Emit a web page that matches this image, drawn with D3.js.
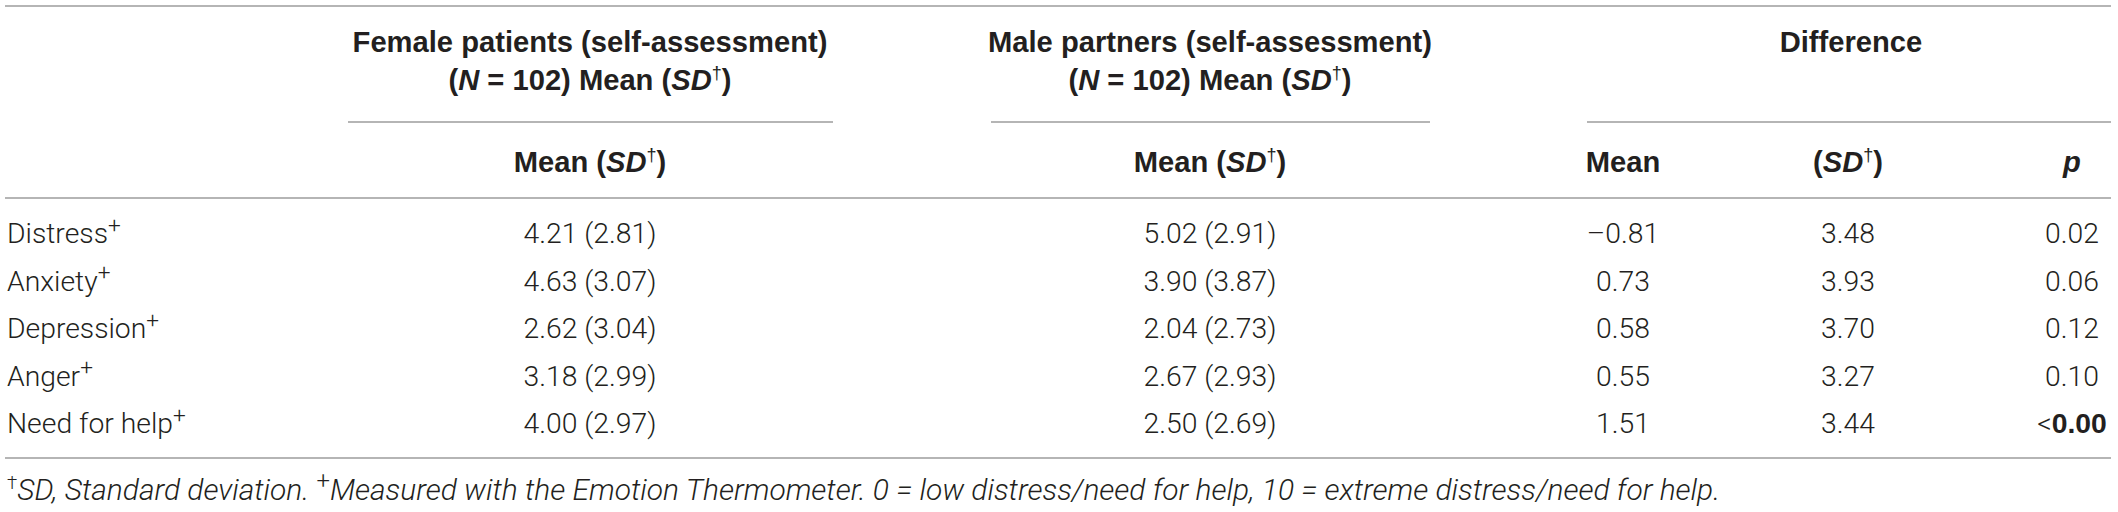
<!DOCTYPE html>
<html>
<head>
<meta charset="utf-8">
<script src="https://cdn.jsdelivr.net/npm/d3@7"></script>
<style>
  body { margin: 0; background: #fff; }
</style>
</head>
<body>
<div id="table_div"></div>
<script>
// table values
const rowLabels = ["Distress", "Anxiety", "Depression", "Anger", "Need for help"];
const femaleMean = [4.21, 4.63, 2.62, 3.18, 4.00];
const femaleSD = [2.81, 3.07, 3.04, 2.99, 2.97];
const maleMean = [5.02, 3.90, 2.04, 2.67, 2.50];
const maleSD = [2.91, 3.87, 2.73, 2.93, 2.69];
const diffMean = [-0.81, 0.73, 0.58, 0.55, 1.51];
const diffSD = [3.48, 3.93, 3.70, 3.27, 3.44];
const pValues = ["0.02", "0.06", "0.12", "0.10", "<0.00"];
const pBold = [false, false, false, false, true];

const footnoteSD = "SD, Standard deviation. ";
const footnoteMeasure = "Measured with the Emotion Thermometer. 0 = low distress/need for help, 10 = extreme distress/need for help.";

const columnKeys = ["label", "female", "male", "dmean", "dsd", "p"];

const width = 2118, height = 512;
const headFont = "'Liberation Sans', Arial, sans-serif";
const bodyFont = "Roboto, 'Liberation Sans', sans-serif";
const textColor = "#231f20";
const ruleColor = "#9d9d9d";

const fmt = d3.format(".2f");
const num = (v) => fmt(v).replace("−", "–");

const x = d3.scaleOrdinal().domain(columnKeys).range([7, 590, 1210, 1623, 1848, 2072]);
const y = d3.scalePoint().domain(rowLabels).range([243, 433]);

const svg = d3.select("#table_div")
  .append("svg")
  .attr("width", width)
  .attr("height", height)
  .style("display", "block");

svg.append("rect").attr("width", width).attr("height", height).attr("fill", "#fff");

// pick a font size so a sample string gets the width it has in the picture
function fitSize(sample, font, weight, style, target) {
  const t = svg.append("text")
    .attr("font-family", font)
    .attr("font-weight", weight)
    .attr("font-style", style)
    .attr("font-size", 100)
    .text(sample);
  const w = t.node().getComputedTextLength();
  t.remove();
  return w > 0 ? (100 * target) / w : 27;
}

const headSize = fitSize("Female patients (self-assessment)", headFont, 700, "normal", 475);
const bodySize = fitSize("4.21 (2.81)", bodyFont, 300, "normal", 133);
const footSize = fitSize(footnoteSD + footnoteMeasure, bodyFont, 300, "italic", 1690);

// rich text: list of segments {t, italic, weight, font, sup}
function richText(g, xPos, yPos, segs, opts) {
  const t = g.append("text")
    .attr("x", xPos)
    .attr("y", yPos)
    .attr("text-anchor", opts.anchor || "middle")
    .attr("font-family", opts.font)
    .attr("font-size", opts.size)
    .attr("font-weight", opts.weight)
    .attr("fill", textColor);
  let raised = false;
  segs.forEach((s) => {
    const ts = t.append("tspan").text(s.t);
    if (s.italic) ts.attr("font-style", "italic");
    if (s.weight) ts.attr("font-weight", s.weight);
    if (s.font) ts.attr("font-family", s.font);
    if (s.sup) {
      ts.attr("font-size", opts.size * (s.supScale || 0.62)).attr("dy", raised ? 0 : -opts.size * 0.36);
      raised = true;
    } else if (raised) {
      ts.attr("dy", opts.size * 0.36);
      raised = false;
    }
  });
  return t;
}

const rules = svg.append("g").attr("stroke", ruleColor).attr("stroke-width", 1.6);
const hline = (x1, x2, yy) => rules.append("line").attr("x1", x1).attr("x2", x2).attr("y1", yy).attr("y2", yy);

hline(5, 2111, 6);
hline(348, 833, 122);
hline(991, 1430, 122);
hline(1587, 2111, 122);
hline(5, 2111, 198);
hline(5, 2111, 458);

// headers
const head = svg.append("g");
const hOpts = { font: headFont, size: headSize, weight: 700 };
const sdSup = [{ t: "(" }, { t: "SD", italic: true }, { t: "†", sup: true, weight: 400 }, { t: ")" }];
const nLine = [{ t: "(" }, { t: "N", italic: true }, { t: " = 102) Mean " }].concat(sdSup);

richText(head, x("female"), 52, [{ t: "Female patients (self-assessment)" }], hOpts);
richText(head, x("female"), 90, nLine, hOpts);
richText(head, x("male"), 52, [{ t: "Male partners (self-assessment)" }], hOpts);
richText(head, x("male"), 90, nLine, hOpts);
richText(head, 1851, 52, [{ t: "Difference" }], hOpts);

richText(head, x("female"), 172, [{ t: "Mean " }].concat(sdSup), hOpts);
richText(head, x("male"), 172, [{ t: "Mean " }].concat(sdSup), hOpts);
richText(head, x("dmean"), 172, [{ t: "Mean" }], hOpts);
richText(head, x("dsd"), 172, sdSup, hOpts);
richText(head, x("p"), 172, [{ t: "p", italic: true }], hOpts);

// body rows
const bOpts = { font: bodyFont, size: bodySize, weight: 300 };
const rows = svg.append("g")
  .selectAll("g.row")
  .data(rowLabels.map((label, i) => ({ label, i })))
  .join("g")
  .attr("class", "row");

rows.each(function (d) {
  const g = d3.select(this);
  const yy = y(d.label);
  const i = d.i;
  richText(g, x("label"), yy, [{ t: d.label }, { t: "+", sup: true, supScale: 0.8 }], Object.assign({ anchor: "start" }, bOpts));
  richText(g, x("female"), yy, [{ t: `${num(femaleMean[i])} (${num(femaleSD[i])})` }], bOpts);
  richText(g, x("male"), yy, [{ t: `${num(maleMean[i])} (${num(maleSD[i])})` }], bOpts);
  richText(g, x("dmean"), yy, [{ t: num(diffMean[i]) }], bOpts);
  richText(g, x("dsd"), yy, [{ t: num(diffSD[i]) }], bOpts);
  if (pBold[i]) {
    const p = pValues[i];
    richText(g, x("p"), yy, [{ t: p[0] }, { t: p.slice(1), weight: 700, font: headFont }], bOpts);
  } else {
    richText(g, x("p"), yy, [{ t: pValues[i] }], bOpts);
  }
});

// footnote
richText(svg, 7, 500, [
  { t: "†", sup: true },
  { t: footnoteSD, italic: true },
  { t: "+", sup: true, supScale: 0.8 },
  { t: footnoteMeasure, italic: true },
], { anchor: "start", font: bodyFont, size: footSize, weight: 300 });
</script>
</body>
</html>
